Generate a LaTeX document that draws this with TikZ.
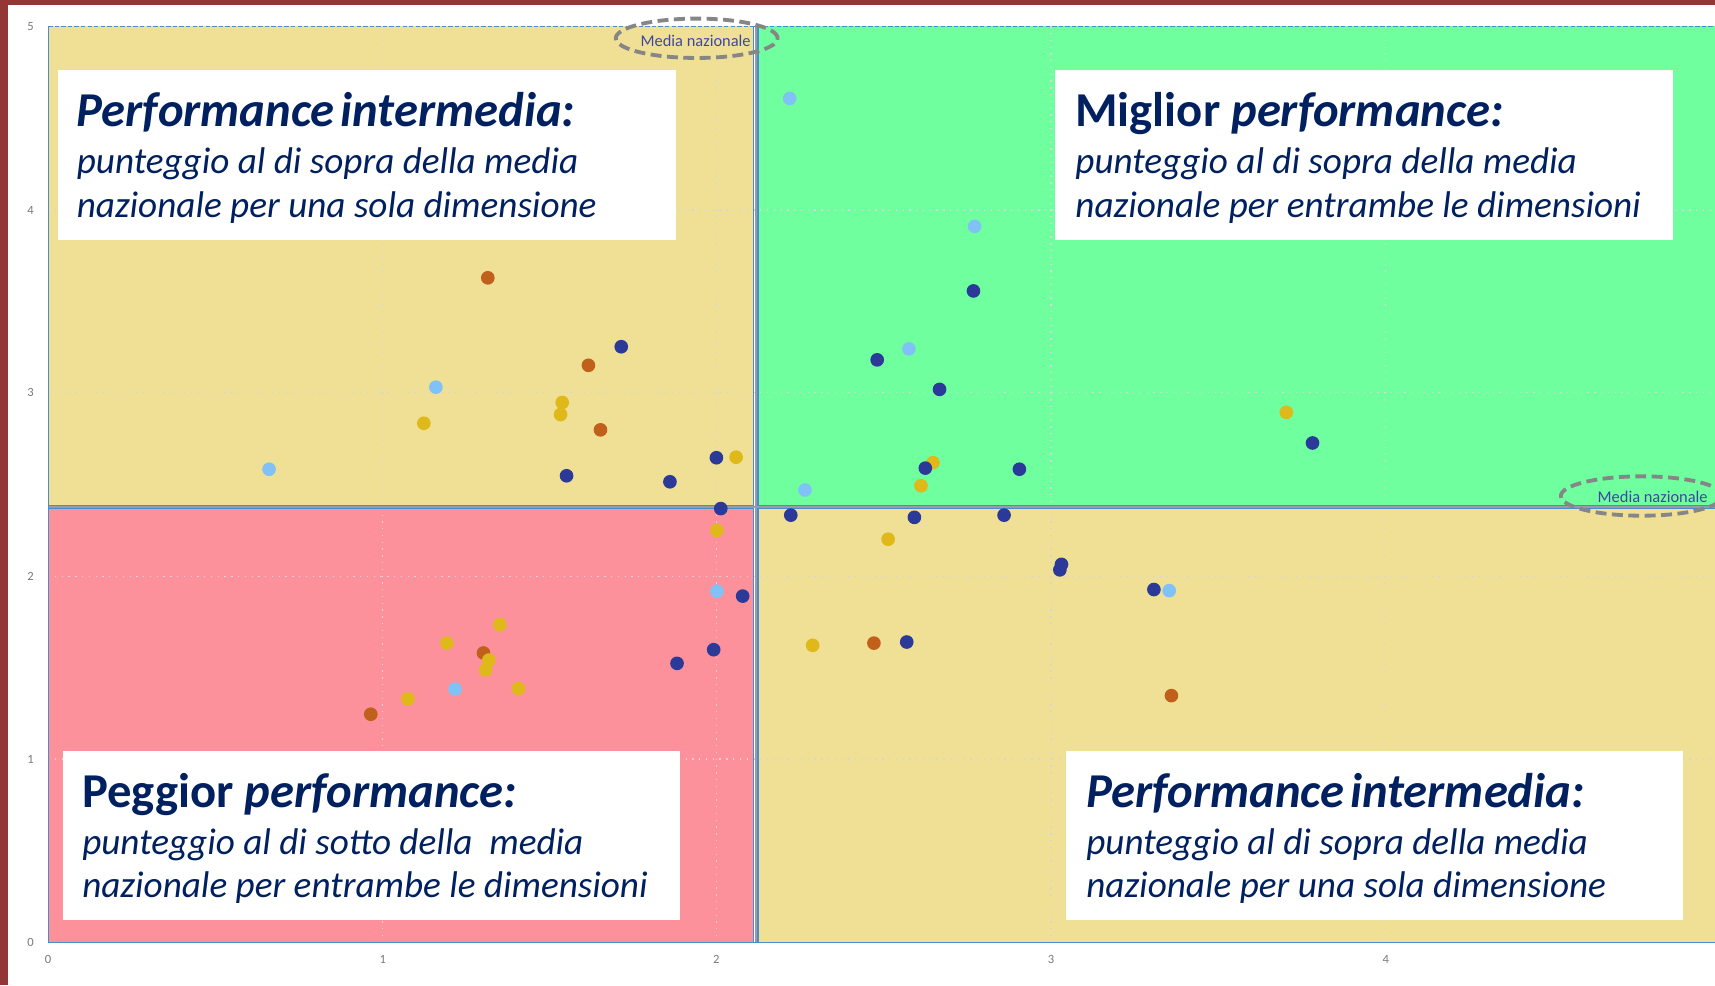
\documentclass[tikz,border=0pt]{standalone}
\usepackage{fontspec}
\setmainfont{Carlito}
\usetikzlibrary{shapes.geometric}
\definecolor{frame}{HTML}{943634}
\definecolor{qyellow}{HTML}{F0E096}
\definecolor{qgreen}{HTML}{6FFF9F}
\definecolor{qpink}{HTML}{FC919B}
\definecolor{qblue}{HTML}{4A8CD0}
\definecolor{qgray}{HTML}{9A9AA6}
\definecolor{gridc}{HTML}{D6D6D6}
\definecolor{navy}{HTML}{002060}
\definecolor{medc}{HTML}{3C48A0}
\definecolor{cdark}{HTML}{2B3A99}
\definecolor{clight}{HTML}{80C2F6}
\definecolor{corange}{HTML}{C0601A}
\definecolor{cgold}{HTML}{DFB81A}
\definecolor{ticks}{HTML}{7A7A7A}
\tikzset{
  dotbase/.style={circle,inner sep=0pt,minimum size=12.5pt,draw=none},
  dotdark/.style={dotbase,fill=cdark},
  dotlight/.style={dotbase,fill=clight},
  dotorange/.style={dotbase,fill=corange},
  dotgold/.style={dotbase,fill=cgold},
  gridline/.style={draw=gridc,line width=1.2pt,dash pattern=on 1.2pt off 5pt},
  qborder/.style={draw=qblue,line width=1.1pt},
  tick/.style={text=ticks,font=\fontsize{11.5}{12}\selectfont,inner sep=0pt},
  whitebox/.style={fill=white,draw=none},
  ttl/.style={text=navy,anchor=base west,inner sep=0pt,font=\fontsize{44.5}{50}\selectfont\bfseries},
  body/.style={text=navy,anchor=base west,inner sep=0pt,font=\fontsize{34}{40}\selectfont\itshape},
  mell/.style={ellipse,draw=gray!95,line width=3.5pt,dash pattern=on 10pt off 5pt,minimum width=148pt,minimum height=36pt,inner sep=0pt},
  mtext/.style={text=medc,inner sep=0pt,font=\fontsize{15}{16}\selectfont},
}
\begin{document}
\begin{tikzpicture}[x=1pt,y=-1pt]
\useasboundingbox (0,0) rectangle (1568,901);
\fill[white] (0,0) rectangle (1568,901);
% frame
\fill[frame] (0,0) rectangle (7,901);
\fill[frame] (0,0) rectangle (1568,5);
% quadrants
\fill[qyellow] (44,24) rectangle (689,462);
\fill[qgreen] (693,24) rectangle (1568,462);
\fill[qpink] (44,465) rectangle (689,862);
\fill[qyellow] (693,465) rectangle (1568,862);
% grid
\foreach \gx in {350,655,961,1267} \draw[gridline] (\gx,24) -- (\gx,862);
\foreach \gy in {192,359,527,694} \draw[gridline] (44,\gy) -- (1568,\gy);
% borders
\draw[qgray,line width=2pt] (44,463.5) -- (1568,463.5);
\draw[qgray,line width=2pt] (691,24) -- (691,862);
\draw[qborder] (44,462) -- (689,462) -- (689,24);
\draw[qborder] (44,465) -- (689,465) -- (689,862);
\draw[qborder] (1568,462) -- (693,462) -- (693,24);
\draw[qborder] (1568,465) -- (693,465) -- (693,862);
\draw[qborder] (44,24) -- (44,862) -- (1568,862);
\draw[qblue,line width=1.1pt,dash pattern=on 4pt off 2pt] (44,24) -- (1568,24);
% ticks
\foreach \v/\yy in {5/24,4/192,3/359,2/527,1/694,0/862} \node[tick] (ty\v) at (28,\yy) {\v};
\foreach \v/\xx in {0/44,1/350,2/655,3/961,4/1267} \node[tick] (tx\v) at (\xx,877) {\v};
% dots
\foreach \px/\py [count=\i] in {446/254,538/334,549/393,442/597,339/653,799/588,1071/636}
  \node[dotorange] (o\i) at (\px,\py) {};
\foreach \px/\py [count=\i] in {514/368,512.5/379,387.5/387,673/418,853/423,842/444,1176/377,812/493,743/590,655.5/485,457/571,408.5/588,447/603.5,444/612.5,474/629.5,373/639}
  \node[dotgold] (g\i) at (\px,\py) {};
\foreach \px/\py [count=\i] in {568/317,518/435,612.5/440.5,655/418.5,659/465,890/266,802/329,859/356,846/428,932/429,1200/405,723/471,836/473,918/471,969/521,970.5/516,1055/539,829/587,619/606.5,652.5/594,679/545}
  \node[dotdark] (b\i) at (\px,\py) {};
\foreach \px/\py [count=\i] in {398.5/354,246/429,722/90,891/207,831/319,736/448,1069/540,655.5/540.5,416/630}
  \node[dotlight] (l\i) at (\px,\py) {};
% media nazionale
\node[mell] (e1) at (637,35) {};
\node[mtext] (m1) at (636,37) {Media nazionale};
\node[mell] (e2) at (1501,453.5) {};
\node[mtext] (m2) at (1511,454) {Media nazionale};
% boxes
\fill[whitebox] (53,64) rectangle (618,219);
\fill[whitebox] (965,64) rectangle (1530,219);
\fill[whitebox] (58,687) rectangle (622,841);
\fill[whitebox] (975,687) rectangle (1539,841);
% texts UL
\node[ttl] (t1a) at (70,116) {\itshape Performance\hspace{0.12em}intermedia:};
\node[body] (t1b) at (70,159) {punteggio al di sopra della media};
\node[body] (t1c) at (70,199) {nazionale per una sola dimensione};
% texts UR
\node[ttl] (t2a) at (983,116) {Miglior \textit{performance:}};
\node[body] (t2b) at (983,159) {punteggio al di sopra della media};
\node[body] (t2c) at (983,199) {nazionale per entrambe le dimensioni};
% texts LL
\node[ttl] (t3a) at (75,738) {Peggior \textit{performance:}};
\node[body] (t3b) at (75,781) {punteggio al di sotto della\ \ media};
\node[body] (t3c) at (75,821) {nazionale per entrambe le dimensioni};
% texts LR
\node[ttl] (t4a) at (993,738) {\itshape Performance\hspace{0.12em}intermedia:};
\node[body] (t4b) at (993,781) {punteggio al di sopra della media};
\node[body] (t4c) at (993,821) {nazionale per una sola dimensione};
\end{tikzpicture}
\end{document}
